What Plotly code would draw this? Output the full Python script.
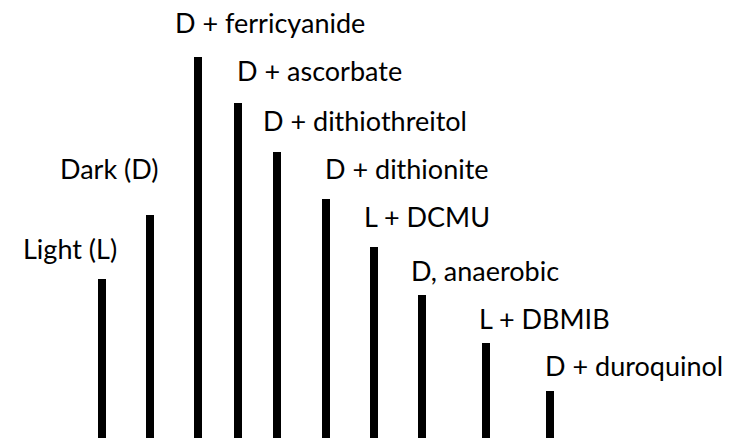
import plotly.graph_objects as go

# conditions, in drawing order
labels = ["Light (L)", "Dark (D)", "D + ferricyanide", "D + ascorbate",
          "D + dithiothreitol", "D + dithionite", "L + DCMU",
          "D, anaerobic", "L + DBMIB", "D + duroquinol"]
# bar positions along the baseline
positions = [102, 150, 198, 238, 277, 326, 374, 422, 486, 550]
# relative signal heights
heights = [159, 223, 381, 335, 286, 239, 191, 143, 95, 47]

# label centres (x, y) in the same units as the bars
label_x = [70, 109, 270, 319, 365, 407, 427, 485, 544, 634]
label_y = [190, 270, 416, 368, 318, 270, 222, 168, 120, 73]

fig = go.Figure()
fig.add_trace(go.Bar(
    x=positions, y=heights, width=8,
    marker=dict(color='black', line=dict(width=0)),
    hoverinfo='skip'
))

for txt, lx, ly in zip(labels, label_x, label_y):
    fig.add_annotation(
        x=lx, y=ly, text=txt, showarrow=False,
        xanchor='center', yanchor='middle',
        font=dict(family='Lato', size=27, color='black')
    )

fig.update_layout(
    width=753, height=438,
    margin=dict(l=0, r=0, t=0, b=0),
    paper_bgcolor='white', plot_bgcolor='white',
    showlegend=False,
    xaxis=dict(range=[0, 753], visible=False, fixedrange=True),
    yaxis=dict(range=[0, 438], visible=False, fixedrange=True),
)

fig.write_html("out.html", config=dict(displayModeBar=False),
               post_script="document.body.style.margin='0';")
